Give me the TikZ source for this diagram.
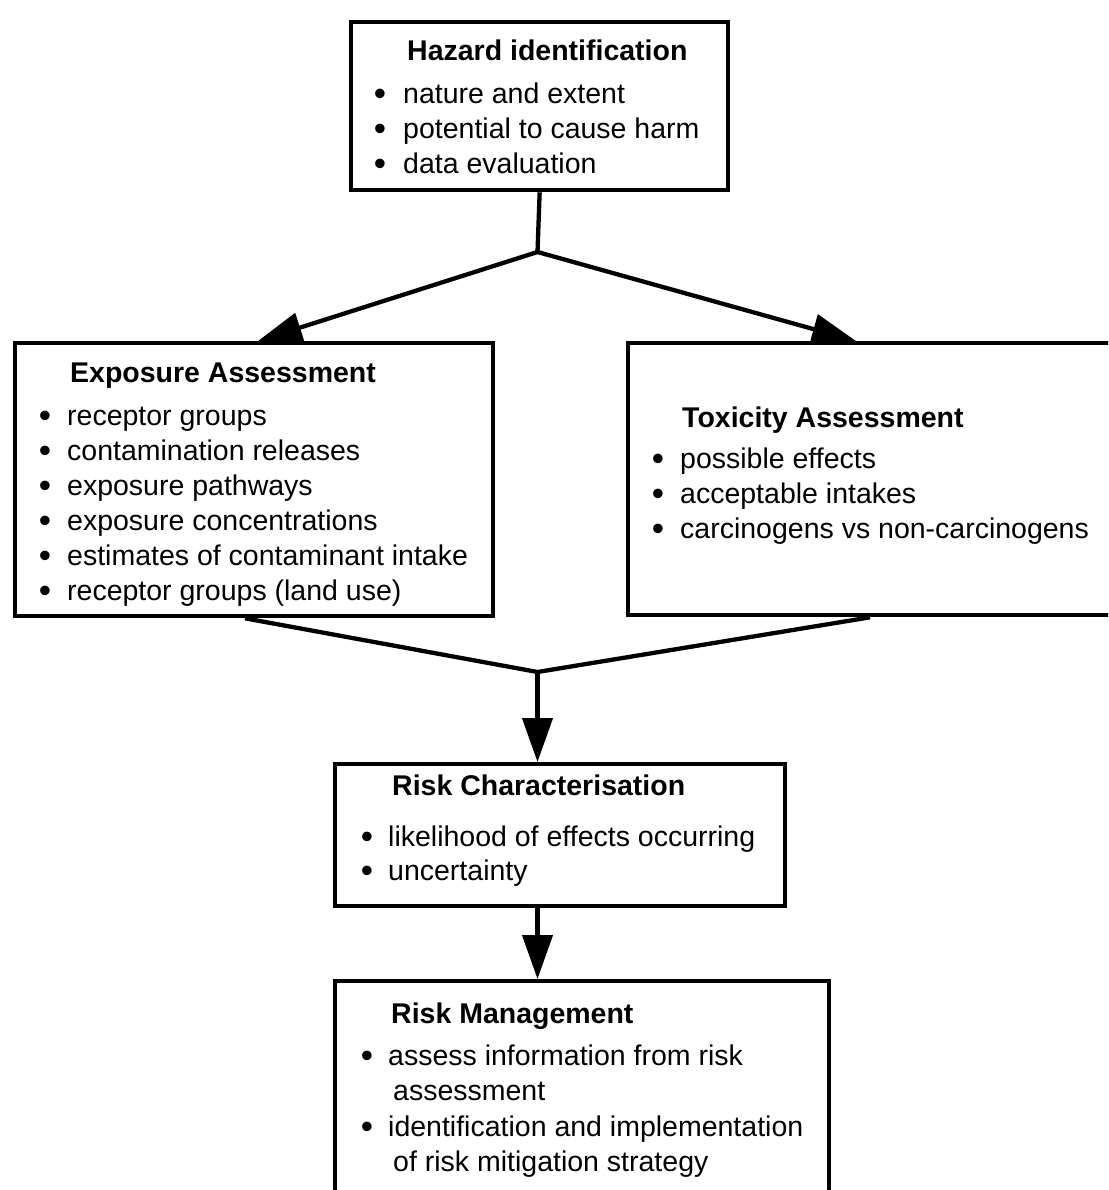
\documentclass[tikz,border=0pt]{standalone}
\usepackage{fontspec}
\setmainfont{Liberation Sans}
\usetikzlibrary{arrows.meta}
\begin{document}
\begin{tikzpicture}[x=1pt,y=-1pt,
  box/.style={draw, line width=4.3pt, rectangle, inner sep=0pt, anchor=north west},
  conn/.style={line width=4.3pt, line join=miter},
  arr/.style={line width=4.3pt, -{Triangle[length=44pt,width=30pt]}},
  ttl/.style={anchor=base west, inner sep=0pt, font=\fontsize{28.5}{34}\bfseries\selectfont},
  itm/.style={anchor=base west, inner sep=0pt, font=\fontsize{28.5}{34}\selectfont},
  bul/.style={anchor=base, inner sep=0pt, yshift=-2pt, font=\fontsize{35}{40}\selectfont}]
\useasboundingbox (0,0) rectangle (1108,1190);
\clip (0,0) rectangle (1108,1190);
\fill[white] (0,0) rectangle (1108,1190);

% boxes
\node[box, minimum width=377pt, minimum height=168pt] (haz) at (349,20) {};
\node[box, minimum width=478pt, minimum height=273pt] (expo) at (13,341) {};
\node[box, minimum width=520pt, minimum height=272pt] (tox) at (626,341) {};
\node[box, minimum width=450pt, minimum height=142pt] (rc) at (333,762) {};
\node[box, minimum width=494pt, minimum height=260pt] (rm) at (333,979) {};

% hazard text
\node[ttl] (hazT) at (407,61) {Hazard identification};
\node[bul] (hazB1) at (380,104) {•};
\node[itm] (hazI1) at (403,104) {nature and extent};
\node[bul] (hazB2) at (380,139) {•};
\node[itm] (hazI2) at (403,139) {potential to cause harm};
\node[bul] (hazB3) at (380,174) {•};
\node[itm] (hazI3) at (403,174) {data evaluation};

% exposure text
\node[ttl] (expoT) at (70,382) {Exposure Assessment};
\node[bul] (expoB1) at (45,425) {•};
\node[itm] (expoI1) at (67,425) {receptor groups};
\node[bul] (expoB2) at (45,460) {•};
\node[itm] (expoI2) at (67,460) {contamination releases};
\node[bul] (expoB3) at (45,495) {•};
\node[itm] (expoI3) at (67,495) {exposure pathways};
\node[bul] (expoB4) at (45,530) {•};
\node[itm] (expoI4) at (67,530) {exposure concentrations};
\node[bul] (expoB5) at (45,565) {•};
\node[itm] (expoI5) at (67,565) {estimates of contaminant intake};
\node[bul] (expoB6) at (45,600) {•};
\node[itm] (expoI6) at (67,600) {receptor groups (land use)};

% toxicity text
\node[ttl] (toxT) at (682,427) {Toxicity Assessment};
\node[bul] (toxB1) at (658,468) {•};
\node[itm] (toxI1) at (680,468) {possible effects};
\node[bul] (toxB2) at (658,503) {•};
\node[itm] (toxI2) at (680,503) {acceptable intakes};
\node[bul] (toxB3) at (658,538) {•};
\node[itm] (toxI3) at (680,538) {carcinogens vs non-carcinogens};

% risk characterisation text
\node[ttl] (rcT) at (392,795) {Risk Characterisation};
\node[bul] (rcB1) at (367,846) {•};
\node[itm] (rcI1) at (388,846) {likelihood of effects occurring};
\node[bul] (rcB2) at (367,880) {•};
\node[itm] (rcI2) at (388,880) {uncertainty};

% risk management text
\node[ttl] (rmT) at (391,1023) {Risk Management};
\node[bul] (rmB1) at (367,1065) {•};
\node[itm] (rmI1) at (388,1065) {assess information from risk};
\node[itm] (rmI1b) at (393,1100) {assessment};
\node[bul] (rmB2) at (367,1136) {•};
\node[itm] (rmI2) at (388,1136) {identification and implementation};
\node[itm] (rmI2b) at (393,1171) {of risk mitigation strategy};

% connectors
\coordinate (j1) at (537.5,252);
\coordinate (j2) at (537.5,672);
\draw[conn] (haz.south) -- (j1);
\draw[arr] (j1) -- ([xshift=245pt]expo.north west);
\draw[arr] (j1) -- ([xshift=230pt]tox.north west);
\draw[conn] ([xshift=232pt]expo.south west) -- (j2) -- ([xshift=244pt]tox.south west);
\draw[arr] (j2) -- (rc.north -| j2);
\draw[arr] (rc.south -| j2) -- (rm.north -| j2);
\end{tikzpicture}
\end{document}
